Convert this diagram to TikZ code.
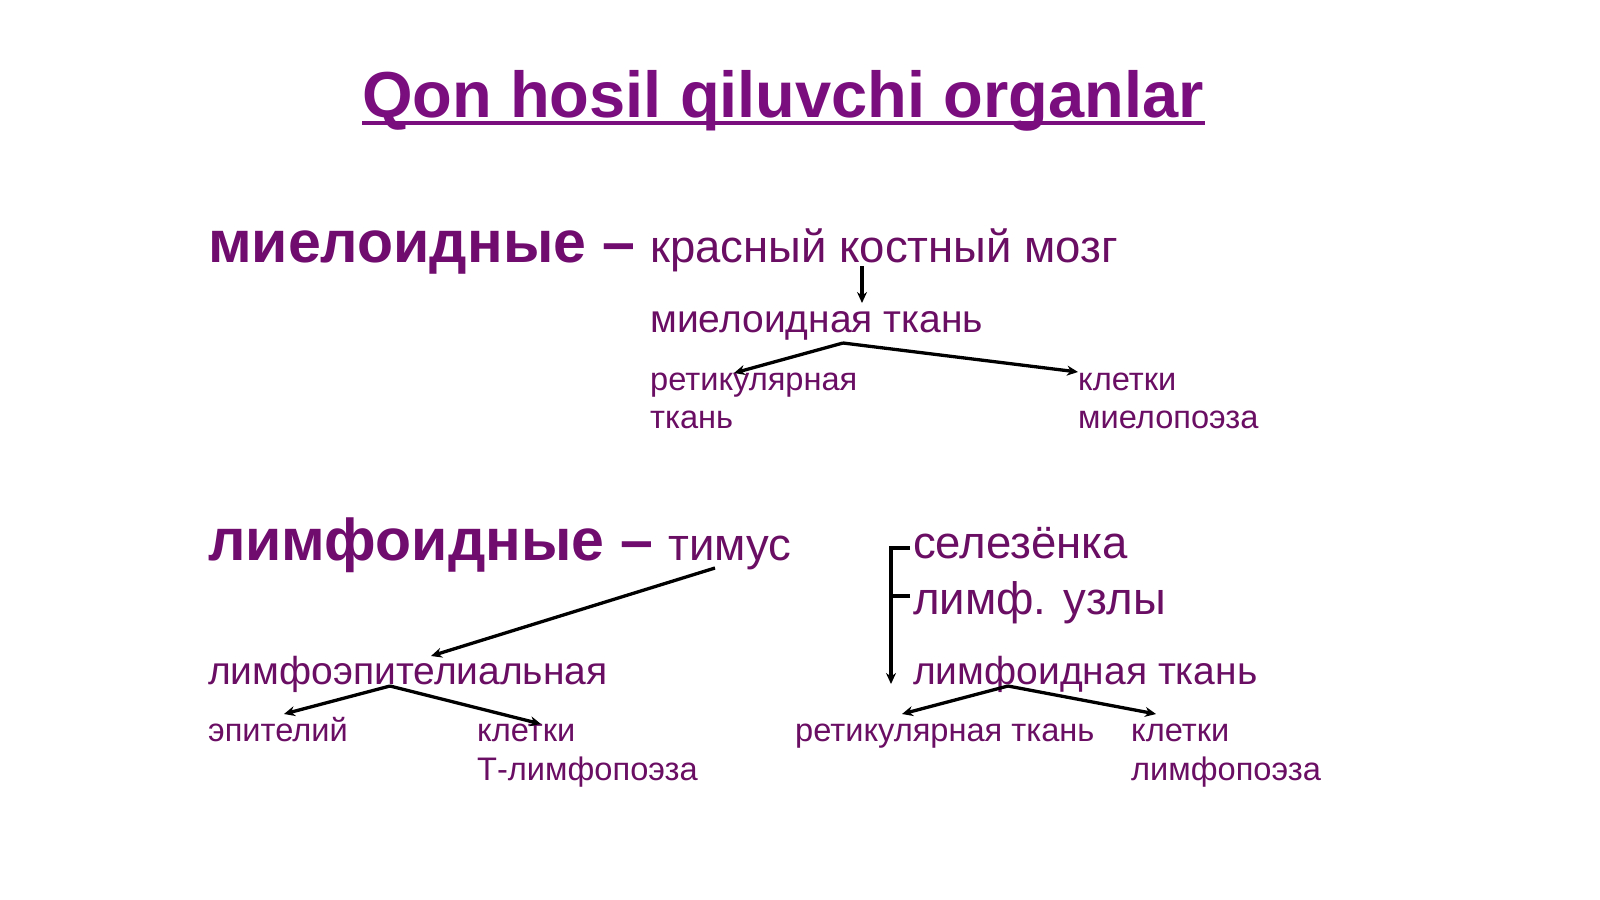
\documentclass[tikz,border=0pt]{standalone}
\usepackage{fontspec}
\setmainfont{Liberation Sans}
\usetikzlibrary{arrows.meta}
\definecolor{titlecol}{RGB}{122,14,126}
\definecolor{headcol}{RGB}{112,12,110}
\definecolor{txtcol}{RGB}{106,14,100}
\tikzset{
  lbl/.style={anchor=base west, inner sep=0pt, text=txtcol},
  head/.style={lbl, text=headcol, font=\fontsize{59}{66}\selectfont\bfseries},
  mid/.style={lbl, font=\fontsize{45.5}{52}\selectfont},
  tis/.style={lbl, font=\fontsize{39}{46}\selectfont},
  sml/.style={lbl, font=\fontsize{32.6}{38}\selectfont},
  arr/.style={draw=black, line width=3.3pt, -{Stealth[length=11pt,width=10pt]}},
  ln/.style={draw=black, line width=3.3pt},
}
\begin{document}
\begin{tikzpicture}[x=1pt,y=-1pt]
\useasboundingbox (0,0) rectangle (1600,899);
\fill[white] (0,0) rectangle (1600,899);
% title
\node[anchor=base, inner sep=0pt, text=titlecol, font=\fontsize{65}{72}\selectfont\bfseries] (title) at (783,117) {Qon hosil qiluvchi organlar};
\draw[titlecol, line width=3.4pt] (362,123) -- (1205,123);
% myeloid
\node[head] (mh) at (208,262) {миелоидные –};
\node[mid] (kkm) at (650,262) {красный костный мозг};
\node[tis] (mt) at (650,332) {миелоидная ткань};
\node[sml] (rt1) at (650,390) {ретикулярная};
\node[sml] (rt1b) at (650,428) {ткань};
\node[sml] (km) at (1078,390) {клетки};
\node[sml] (kmb) at (1078,428) {миелопоэза};
\coordinate (a1s) at (862,266);
\coordinate (a1e) at (862,303);
\draw[arr] (a1s) -- (a1e);
\coordinate (b1) at (843,343);
\coordinate (b1l) at (734,373);
\coordinate (b1r) at (1078,372);
\draw[arr] (b1) -- (b1l);
\draw[arr] (b1) -- (b1r);
% lymphoid
\node[head] (lh) at (208,560) {лимфоидные –};
\node[mid] (tim) at (668,560) {тимус};
\node[tis] (lep) at (208,684) {лимфоэпителиальная};
\node[sml] (ep) at (208,741) {эпителий};
\node[sml] (kt) at (477,741) {клетки};
\node[sml] (ktb) at (477,780) {Т-лимфопоэза};
\coordinate (t1) at (715,568);
\coordinate (t2) at (431,656);
\draw[arr] (t1) -- (t2);
\coordinate (c1) at (390,686);
\coordinate (c1l) at (284,714);
\coordinate (c1r) at (541,724);
\draw[arr] (c1) -- (c1l);
\draw[arr] (c1) -- (c1r);
% spleen / nodes
\node[mid] (sel) at (913,558) {селезёнка};
\node[mid] (luz) at (913,614) {лимф. узлы};
\node[tis] (lt) at (913,684) {лимфоидная ткань};
\node[sml] (rt2) at (795,741) {ретикулярная ткань};
\node[sml] (kl) at (1131,741) {клетки};
\node[sml] (klb) at (1131,780) {лимфопоэза};
\coordinate (s1) at (910,548);
\coordinate (s2) at (910,596);
\coordinate (sv) at (891,548);
\coordinate (sw) at (891,596);
\coordinate (se) at (891,684);
\draw[ln] (s2) -- (sw);
\draw[arr] (s1) -- (sv) -- (se);
\coordinate (d1) at (1008,686);
\coordinate (d1l) at (902,714);
\coordinate (d1r) at (1156,714);
\draw[arr] (d1) -- (d1l);
\draw[arr] (d1) -- (d1r);
\end{tikzpicture}
\end{document}
